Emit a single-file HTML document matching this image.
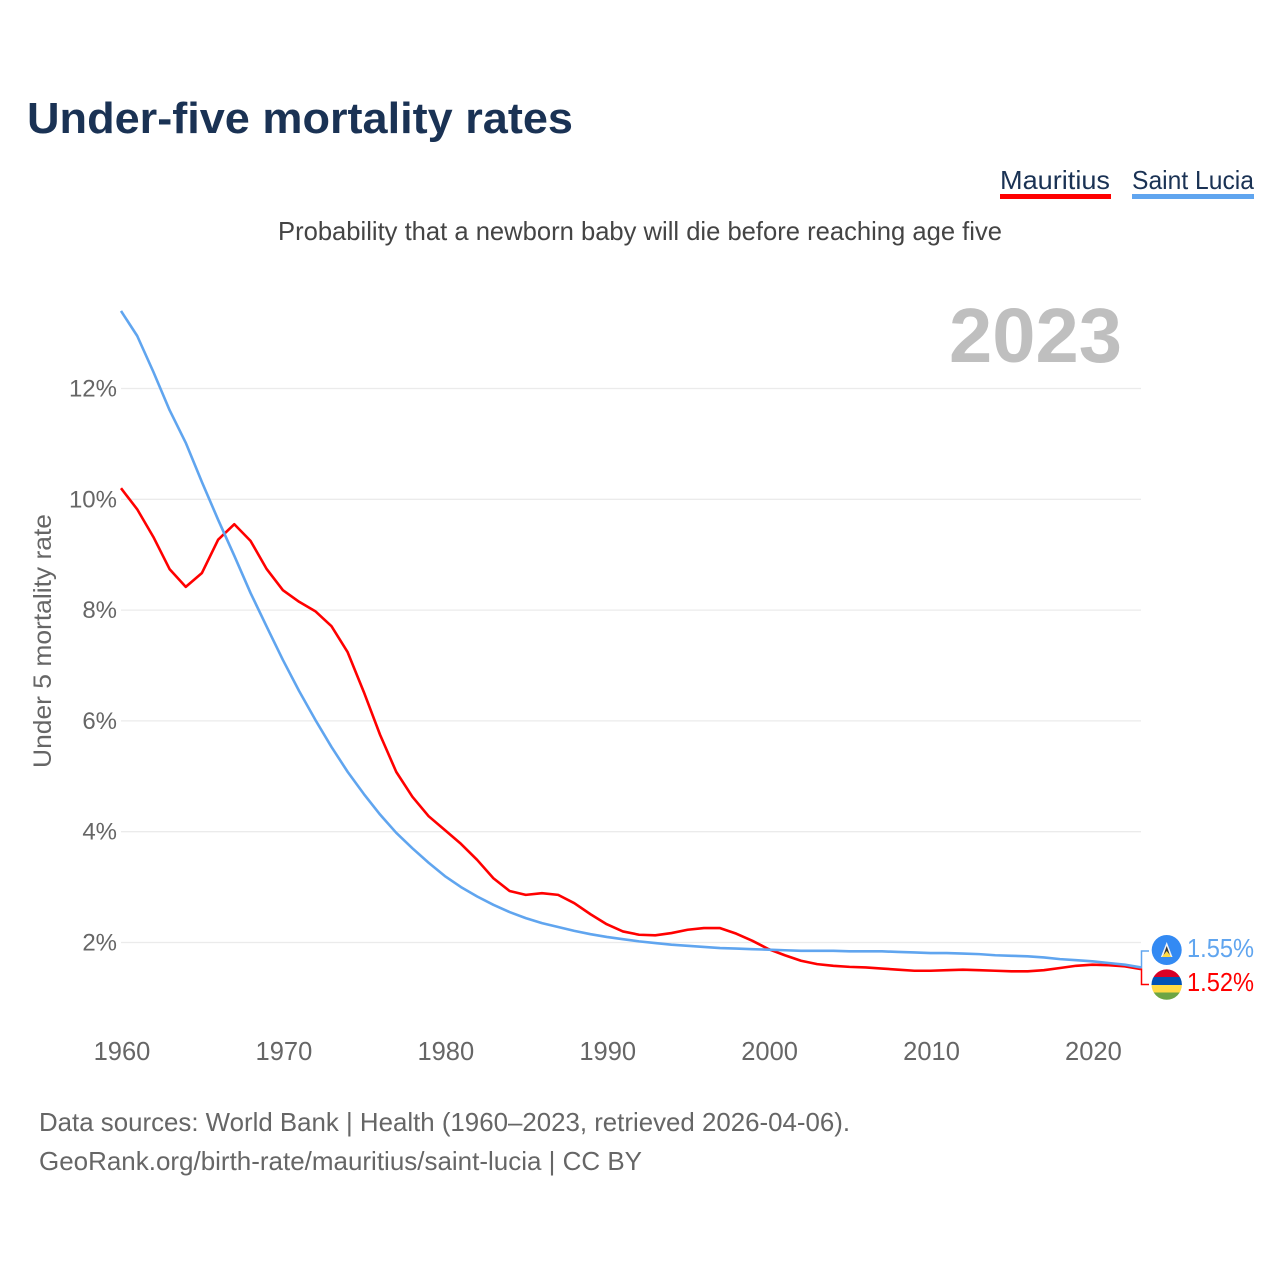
<!DOCTYPE html>
<html lang="en">
<head>
<meta charset="utf-8">
<title>Under-five mortality rates</title>
<style>
html,body{margin:0;padding:0;background:#fff;}
svg{display:block;font-family:"Liberation Sans",sans-serif;}
</style>
</head>
<body>
<svg id="chart" xmlns="http://www.w3.org/2000/svg" width="1280" height="1280" viewBox="0 0 1280 1280">
  <rect x="0" y="0" width="1280" height="1280" fill="#ffffff"/>
  <text x="27" y="133" font-size="44" font-weight="700" fill="#1a3254" textLength="546" lengthAdjust="spacingAndGlyphs">Under-five mortality rates</text>

  <g>
    <g>
      <text x="1000" y="189" font-size="26" fill="#1a3254" textLength="110" lengthAdjust="spacingAndGlyphs">Mauritius</text>
      <rect x="1000" y="194" width="111" height="5" fill="#ff0000"/>
    </g>
    <g>
      <text x="1132" y="189" font-size="26" fill="#1a3254" textLength="122" lengthAdjust="spacingAndGlyphs">Saint Lucia</text>
      <rect x="1132" y="194" width="122" height="5" fill="#60a5ef"/>
    </g>
  </g>

  <text x="278" y="240" font-size="26" fill="#444444" textLength="724" lengthAdjust="spacingAndGlyphs">Probability that a newborn baby will die before reaching age five</text>
  <text x="949" y="362" font-size="77" font-weight="700" fill="#bfbfbf" textLength="173" lengthAdjust="spacingAndGlyphs">2023</text>
  <text transform="translate(51,768) rotate(-90)" x="0" y="0" font-size="25" fill="#666666" textLength="254" lengthAdjust="spacingAndGlyphs">Under 5 mortality rate</text>

  <g id="grid"></g>
  <g id="yticks"></g>
  <g id="xticks"></g>
  <g id="series"></g>

  <g>
    <path id="conn-lucia" fill="none" stroke="#60a5ef" stroke-width="1.5"/>
    <path id="conn-mauritius" fill="none" stroke="#ff0000" stroke-width="1.5"/>

    <g>
      <circle cx="1166.7" cy="950" r="15" fill="#338af3"/>
      <polygon points="1166.7,942 1172.5,957 1160.9,957" fill="#f3f3f3"/>
      <polygon points="1166.7,946 1170.6,957 1162.8,957" fill="#333333"/>
      <polygon points="1166.7,951 1171.5,957 1161.9,957" fill="#ffda44"/>
    </g>
    <g>
      <clipPath id="mu-clip"><circle cx="1166.7" cy="984.6" r="15.2"/></clipPath>
      <g clip-path="url(#mu-clip)">
        <rect x="1150" y="969" width="34" height="8" fill="#d80027"/>
        <rect x="1150" y="977" width="34" height="8" fill="#0052b4"/>
        <rect x="1150" y="985" width="34" height="7.5" fill="#ffda44"/>
        <rect x="1150" y="992.5" width="34" height="8" fill="#6da544"/>
      </g>
    </g>
    <text x="1187" y="957" font-size="26" fill="#60a5ef" textLength="67" lengthAdjust="spacingAndGlyphs">1.55%</text>
    <text x="1187" y="991" font-size="26" fill="#ff0000" textLength="67" lengthAdjust="spacingAndGlyphs">1.52%</text>
  </g>

  <g>
    <text x="39" y="1131" font-size="26" fill="#666666" textLength="811" lengthAdjust="spacingAndGlyphs">Data sources: World Bank | Health (1960–2023, retrieved 2026-04-06).</text>
    <text x="39" y="1170" font-size="26" fill="#666666" textLength="603" lengthAdjust="spacingAndGlyphs">GeoRank.org/birth-rate/mauritius/saint-lucia | CC BY</text>
  </g>
</svg>

<script>
const startYear = 1960;
const endYear = 2023;
const yTickValues = [2, 4, 6, 8, 10, 12];
const xTickYears = [1960, 1970, 1980, 1990, 2000, 2010, 2020];
const mauritiusValues = [
  10.20, 9.82, 9.32, 8.74, 8.42, 8.67, 9.27, 9.55, 9.25, 8.74,
  8.36, 8.15, 7.98, 7.71, 7.24, 6.52, 5.75, 5.08, 4.63, 4.28,
  4.03, 3.78, 3.49, 3.16, 2.93, 2.86, 2.89, 2.86, 2.71, 2.51,
  2.33, 2.20, 2.14, 2.13, 2.17, 2.23, 2.26, 2.26, 2.16, 2.03,
  1.88, 1.77, 1.67, 1.61, 1.58, 1.56, 1.55, 1.53, 1.51, 1.49,
  1.49, 1.50, 1.51, 1.50, 1.49, 1.48, 1.48, 1.50, 1.54, 1.58,
  1.60, 1.59, 1.57, 1.52
];
const saintLuciaValues = [
  13.40, 12.95, 12.30, 11.61, 11.02, 10.31, 9.63, 8.98, 8.31, 7.70,
  7.10, 6.54, 6.02, 5.53, 5.08, 4.68, 4.31, 3.98, 3.70, 3.44,
  3.20, 3.00, 2.83, 2.68, 2.55, 2.44, 2.35, 2.28, 2.21, 2.15,
  2.10, 2.06, 2.02, 1.99, 1.96, 1.94, 1.92, 1.90, 1.89, 1.88,
  1.87, 1.86, 1.85, 1.85, 1.85, 1.84, 1.84, 1.84, 1.83, 1.82,
  1.81, 1.81, 1.80, 1.79, 1.77, 1.76, 1.75, 1.73, 1.70, 1.68,
  1.66, 1.63, 1.60, 1.55
];

const SVG_NS = 'http://www.w3.org/2000/svg';
const xLeft = 121, xRight = 1141;
const y2pct = 942.5, pxPerPct = 55.4;
function xScale(year) { return xLeft + (year - startYear) * (xRight - xLeft) / (endYear - startYear); }
function yScale(v) { return y2pct - (v - 2) * pxPerPct; }

const grid = document.getElementById('grid');
const yticks = document.getElementById('yticks');
const xticks = document.getElementById('xticks');
const seriesGroup = document.getElementById('series');

yTickValues.forEach(function (v) {
  const line = document.createElementNS(SVG_NS, 'line');
  
  
  line.setAttribute('x1', xLeft);
  line.setAttribute('x2', xRight);
  line.setAttribute('y1', yScale(v));
  line.setAttribute('y2', yScale(v));
  line.setAttribute('stroke', '#ebebeb');
  line.setAttribute('stroke-width', '1.3');
  grid.appendChild(line);

  const label = document.createElementNS(SVG_NS, 'text');
  
  
  label.setAttribute('x', 117);
  label.setAttribute('y', yScale(v) + 8);
  label.setAttribute('text-anchor', 'end');
  label.setAttribute('font-size', '24');
  label.setAttribute('fill', '#666666');
  label.textContent = v + '%';
  yticks.appendChild(label);
});

xTickYears.forEach(function (yr) {
  const label = document.createElementNS(SVG_NS, 'text');
  
  
  label.setAttribute('x', xScale(yr) + 1);
  label.setAttribute('y', 1060);
  label.setAttribute('text-anchor', 'middle');
  label.setAttribute('font-size', '25.5');
  label.setAttribute('fill', '#666666');
  label.textContent = yr;
  xticks.appendChild(label);
});

function linePoints(values) {
  return values.map(function (v, i) {
    return xScale(startYear + i).toFixed(2) + ',' + yScale(v).toFixed(2);
  }).join(' ');
}

const mauritiusLine = document.createElementNS(SVG_NS, 'polyline');


mauritiusLine.setAttribute('points', linePoints(mauritiusValues));
mauritiusLine.setAttribute('fill', 'none');
mauritiusLine.setAttribute('stroke', '#ff0000');
mauritiusLine.setAttribute('stroke-width', '2.6');
mauritiusLine.setAttribute('stroke-linejoin', 'round');
seriesGroup.appendChild(mauritiusLine);

const luciaLine = document.createElementNS(SVG_NS, 'polyline');


luciaLine.setAttribute('points', linePoints(saintLuciaValues));
luciaLine.setAttribute('fill', 'none');
luciaLine.setAttribute('stroke', '#60a5ef');
luciaLine.setAttribute('stroke-width', '2.6');
luciaLine.setAttribute('stroke-linejoin', 'round');
seriesGroup.appendChild(luciaLine);

const lastLucia = yScale(saintLuciaValues[saintLuciaValues.length - 1]);
const lastMauritius = yScale(mauritiusValues[mauritiusValues.length - 1]);
document.getElementById('conn-lucia').setAttribute('d', 'M' + xRight + ' ' + lastLucia + ' H1141.5 V951 H1149');
document.getElementById('conn-mauritius').setAttribute('d', 'M' + xRight + ' ' + lastMauritius + ' H1141.5 V984.5 H1149');
</script>
</body>
</html>
